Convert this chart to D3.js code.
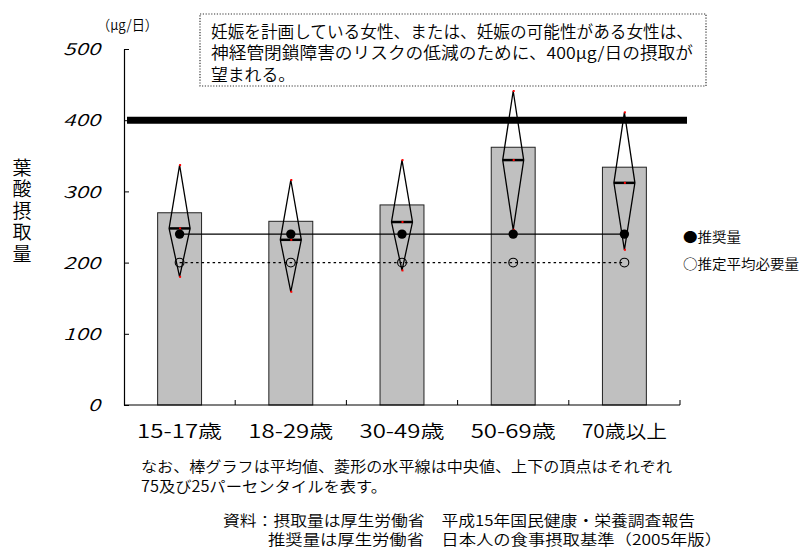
<!DOCTYPE html>
<html lang="ja">
<head>
<meta charset="utf-8">
<script src="https://cdn.jsdelivr.net/npm/d3@7"></script>
<style>
  html, body { margin: 0; padding: 0; background: #fff; }
  svg { display: block; }
  text { font-family: "Noto Sans CJK JP", "Noto Sans", sans-serif; font-weight: 350; fill: #000; }
</style>
</head>
<body>
<svg id="chart" width="803" height="549"></svg>
<script>
// 年齢階級別の葉酸摂取量（μg/日）
const categories = ["15-17歳", "18-29歳", "30-49歳", "50-69歳", "70歳以上"];
const meanIntake = [270, 258, 281, 362, 334];      // 平均値（棒）
const medianIntake = [248, 232, 257, 344, 312];    // 中央値（菱形の水平線）
const p75Intake = [337, 316, 344, 441, 411];       // 75パーセンタイル（上の頂点）
const p25Intake = [180, 159, 189, 246, 218];       // 25パーセンタイル（下の頂点）
const recommended = [240, 240, 240, 240, 240];     // 推奨量
const estimatedAvg = [200, 200, 200, 200, 200];    // 推定平均必要量
const targetIntake = 400;                          // 妊娠を計画している女性の目標量
const yTicks = [0, 100, 200, 300, 400, 500];

const noteLines = [
  "なお、棒グラフは平均値、菱形の水平線は中央値、上下の頂点はそれぞれ",
  "75及び25パーセンタイルを表す。"
];
const sourceLines = [
  "資料：摂取量は厚生労働省　平成15年国民健康・栄養調査報告",
  "推奨量は厚生労働省　日本人の食事摂取基準（2005年版）"
];
const boxLines = [
  "妊娠を計画している女性、または、妊娠の可能性がある女性は、",
  "神経管閉鎖障害のリスクの低減のために、400μg/日の摂取が",
  "望まれる。"
];

const svg = d3.select("#chart");
const plotLeft = 124, plotRight = 680, plotBottom = 405, plotTop = 49;

const x = d3.scaleBand().domain(categories).range([plotLeft, plotRight]).padding(0);
const y = d3.scaleLinear().domain([0, 500]).range([plotBottom, plotTop]);
const cx = c => x(c) + x.bandwidth() / 2;
const barW = x.bandwidth() * 0.395;
const halfDia = 10.5;

// 棒（平均値）
svg.append("g").selectAll("rect").data(categories).join("rect")
  .attr("x", c => cx(c) - barW / 2)
  .attr("y", (c, i) => y(meanIntake[i]))
  .attr("width", barW)
  .attr("height", (c, i) => y(0) - y(meanIntake[i]))
  .attr("fill", "#c0c0c0")
  .attr("stroke", "#222")
  .attr("stroke-width", 1);

// 目標量 400μg/日 の太線
svg.append("line")
  .attr("x1", plotLeft + 3).attr("x2", plotRight + 7)
  .attr("y1", y(targetIntake)).attr("y2", y(targetIntake))
  .attr("stroke", "#000").attr("stroke-width", 7);

// 推定平均必要量（点線）と推奨量（実線）
const lineGen = d3.line().x(d => cx(d[0])).y(d => y(d[1]));
svg.append("path")
  .attr("d", lineGen(categories.map((c, i) => [c, estimatedAvg[i]])))
  .attr("fill", "none").attr("stroke", "#000").attr("stroke-width", 1.2)
  .attr("stroke-dasharray", "2.5,3");
svg.append("path")
  .attr("d", lineGen(categories.map((c, i) => [c, recommended[i]])))
  .attr("fill", "none").attr("stroke", "#000").attr("stroke-width", 1.2);

// 菱形（25・50・75パーセンタイル）
const dia = svg.append("g");
categories.forEach((c, i) => {
  const xc = cx(c);
  const pts = [
    [xc, y(p75Intake[i])],
    [xc + halfDia, y(medianIntake[i])],
    [xc, y(p25Intake[i])],
    [xc - halfDia, y(medianIntake[i])]
  ];
  dia.append("polygon")
    .attr("points", pts.map(p => p.join(",")).join(" "))
    .attr("fill", "none").attr("stroke", "#000").attr("stroke-width", 1.3)
    .attr("stroke-linejoin", "miter");
  dia.append("line")
    .attr("x1", xc - halfDia).attr("x2", xc + halfDia)
    .attr("y1", y(medianIntake[i])).attr("y2", y(medianIntake[i]))
    .attr("stroke", "#000").attr("stroke-width", 2.5);
  [p75Intake[i], medianIntake[i], p25Intake[i]].forEach(v => {
    dia.append("rect")
      .attr("x", xc - 0.5).attr("y", y(v) - 1)
      .attr("width", 2).attr("height", 2)
      .attr("fill", "#ff0000");
  });
});

// マーカー
svg.append("g").selectAll("circle").data(categories).join("circle")
  .attr("cx", cx).attr("cy", (c, i) => y(estimatedAvg[i]))
  .attr("r", 4.4).attr("fill", "none").attr("stroke", "#000").attr("stroke-width", 1.1);
svg.append("g").selectAll("circle").data(categories).join("circle")
  .attr("cx", cx).attr("cy", (c, i) => y(recommended[i]))
  .attr("r", 4.7).attr("fill", "#000");

// Y軸
const yAxis = svg.append("g")
  .attr("transform", `translate(${plotLeft},0)`)
  .call(d3.axisLeft(y).tickValues(yTicks).tickSizeInner(-5).tickSizeOuter(0).tickPadding(24));
yAxis.select(".domain").attr("stroke", "#000").attr("stroke-width", 1.2);
yAxis.selectAll(".tick line").attr("stroke", "#000");
yAxis.selectAll(".tick text")
  .attr("font-family", "'Liberation Sans', Arial, sans-serif")
  .attr("font-style", "italic")
  .attr("font-weight", 400)
  .attr("font-size", 16)
  .attr("dy", "0.36em")
  .attr("textLength", d => String(d).length * 12.3)
  .attr("lengthAdjust", "spacingAndGlyphs");

// X軸（区切りの目盛りは内向き）
const xAxis = svg.append("g");
xAxis.append("line")
  .attr("x1", plotLeft).attr("x2", plotRight).attr("y1", plotBottom).attr("y2", plotBottom)
  .attr("stroke", "#000").attr("stroke-width", 1.2);
const bounds = categories.map(c => x(c)).concat([x(categories[categories.length - 1]) + x.bandwidth()]);
xAxis.selectAll(".sep").data(bounds.slice(1)).join("line")
  .attr("x1", d => d).attr("x2", d => d)
  .attr("y1", plotBottom).attr("y2", plotBottom - 5)
  .attr("stroke", "#000");
xAxis.selectAll(".cat").data(categories).join("text")
  .attr("x", cx).attr("y", plotBottom + 33)
  .attr("text-anchor", "middle")
  .attr("font-size", 18.5)
  .attr("textLength", 85)
  .attr("lengthAdjust", "spacingAndGlyphs")
  .text(d => d);

// 単位
svg.append("text").attr("x", 97).attr("y", 30).attr("font-size", 14)
  .attr("textLength", 61).attr("lengthAdjust", "spacingAndGlyphs")
  .text("（μg/日）");

// 縦書きの軸タイトル
svg.append("text")
  .attr("x", 22).attr("y", 158)
  .attr("writing-mode", "vertical-rl")
  .style("text-orientation", "upright")
  .attr("letter-spacing", 2.5)
  .attr("font-size", 19).attr("font-weight", 400)
  .text("葉酸摂取量");

// 注記ボックス
svg.append("rect")
  .attr("x", 200).attr("y", 14).attr("width", 506).attr("height", 72)
  .attr("fill", "#fff").attr("stroke", "#333").attr("stroke-width", 1.2)
  .attr("stroke-dasharray", "1.2,1.6");
const boxLens = [482, 482, 84];
const boxText = svg.append("text").attr("font-size", 16.5);
boxText.selectAll("tspan").data(boxLines).join("tspan")
  .attr("x", 211).attr("y", (d, i) => 37.5 + i * 21.6)
  .attr("textLength", (d, i) => boxLens[i])
  .attr("lengthAdjust", "spacingAndGlyphs")
  .text(d => d);

// 凡例
const legendItems = ["●推奨量", "○推定平均必要量"];
svg.append("g").selectAll("text").data(legendItems).join("text")
  .attr("x", 683).attr("y", (d, i) => 242 + i * 27)
  .attr("font-size", 13.5)
  .attr("textLength", (d, i) => i === 0 ? 58 : 116)
  .attr("lengthAdjust", "spacingAndGlyphs")
  .text(d => d);

// 脚注
const noteLens = [531, 246];
const noteText = svg.append("text").attr("font-size", 15.3);
noteText.selectAll("tspan").data(noteLines).join("tspan")
  .attr("x", 141).attr("y", (d, i) => 471.5 + i * 20.3)
  .attr("textLength", (d, i) => noteLens[i])
  .attr("lengthAdjust", "spacingAndGlyphs")
  .text(d => d);

const srcX = [223, 268], srcLen = [472, 454];
const srcText = svg.append("text").attr("font-size", 14.6);
srcText.selectAll("tspan").data(sourceLines).join("tspan")
  .attr("x", (d, i) => srcX[i]).attr("y", (d, i) => 525.5 + i * 19.4)
  .attr("textLength", (d, i) => srcLen[i])
  .attr("lengthAdjust", "spacingAndGlyphs")
  .text(d => d);
</script>
</body>
</html>
